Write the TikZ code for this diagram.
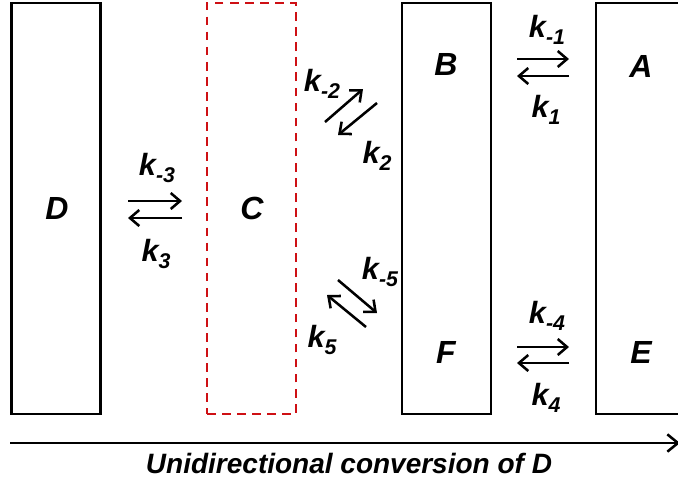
\documentclass[tikz,border=0pt]{standalone}
\usepackage{fontspec}
\setmainfont{Liberation Sans}
\usetikzlibrary{arrows.meta,positioning}
\definecolor{dashred}{RGB}{206,16,20}
\newcommand{\kr}[1]{k\raisebox{-5pt}{\fontsize{16}{18}\selectfont #1}}

\begin{document}
\begin{tikzpicture}[
  x=0.75pt, y=-0.75pt,
  font=\bfseries\itshape,
  box/.style={draw, line width=2pt, minimum width=66.75pt,
              minimum height=308.25pt, inner sep=0pt},
  species/.style={font=\fontsize{24}{28}\selectfont\bfseries\itshape, inner sep=0pt},
  rate/.style={font=\fontsize{23}{27}\selectfont\bfseries\itshape, inner sep=0pt},
  arr/.style={-{Straight Barb[length=7pt, width=12pt]}, line width=1.9pt}
]
\useasboundingbox (0,0) rectangle (678,480);

% boxes
\node[box] (boxD) at (56,208.5) {};
\node[box, draw=dashred, dash pattern=on 6.5pt off 4.8pt] (boxC) at (251.5,208.5) {};
\node[box] (boxBF) at (446.5,208.5) {};
\node[box] (boxAE) at (640.5,208.5) {};

% species
\node[species] (D) at (57,208) {D};
\node[species] (C) at (252,208) {C};
\node[species] (B) at (446,64) {B};
\node[species] (F) at (446,352) {F};
\node[species] (A) at (641,66) {A};
\node[species] (E) at (641,352) {E};

% rate constants
\node[rate] (km3) at (157,168) {\kr{-3}};
\node[rate] (k3)  at (156,254) {\kr{3}};
\node[rate] (km1) at (547,30)  {\kr{-1}};
\node[rate] (k1)  at (546,110) {\kr{1}};
\node[rate] (km4) at (547,316) {\kr{-4}};
\node[rate] (k4)  at (546,398) {\kr{4}};
\node[rate] (km2) at (322,84)  {\kr{-2}};
\node[rate] (k2)  at (377,156) {\kr{2}};
\node[rate] (km5) at (380,272) {\kr{-5}};
\node[rate] (k5)  at (322,340) {\kr{5}};

% reaction arrows
\foreach \nm/\xa/\ya/\xb/\yb in {
    r3f/128/201/182/201, r3b/182/218/128/218,
    r1f/517/59/569/59,   r1b/569/76/517/76,
    r4f/517/347/569/347, r4b/569/363/517/363,
    r2f/325/122/363/89,  r2b/377/103/338/135,
    r5f/338/280/377/313, r5b/366/327/327/295}{
  \coordinate (\nm s) at (\xa,\ya);
  \coordinate (\nm e) at (\xb,\yb);
  \draw[arr] (\nm s) -- (\nm e);
}

% time axis
\coordinate (axs) at (10,443);
\coordinate (axe) at (680,443);
\draw[line width=1.9pt, -{Straight Barb[length=8pt, width=13pt]}] (axs) -- (axe);
\node[font=\fontsize{21}{24}\selectfont\bfseries\itshape] (axlbl) at (349,463)
  {Unidirectional conversion of D};
\end{tikzpicture}
\end{document}
